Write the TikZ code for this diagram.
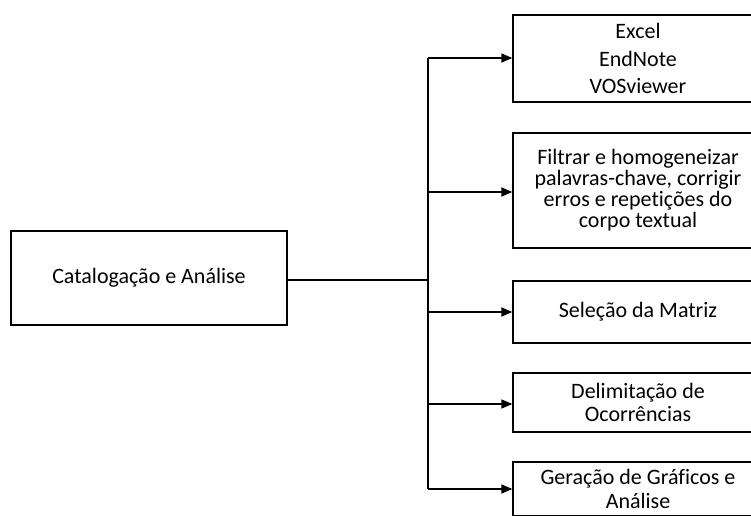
\documentclass[tikz,border=0pt]{standalone}
\usepackage{fontspec}
\setmainfont{Carlito}[Ligatures={NoCommon,NoContextual,NoRare},RawFeature={-liga;-clig;-dlig;-calt}]
\usetikzlibrary{arrows.meta}
\begin{document}
\begin{tikzpicture}[x=1pt,y=-1pt,
  box/.style={draw,line width=1.3pt,align=center,font=\fontsize{22}{23}\selectfont,inner sep=0pt},
  link/.style={line width=1.3pt},
  arr/.style={line width=1.3pt,-{Triangle[length=11pt,width=9pt]}}]
\useasboundingbox (0,0) rectangle (751,515);
\clip (0,0) rectangle (751,515);
% source box
\node[box,minimum width=276pt,minimum height=94pt] (src) at (149,278) {Catalogação e Análise};
% target boxes
\node[box,minimum width=250pt,minimum height=87pt,font=\fontsize{22}{27.5}\selectfont] (t1) at (638,58.5) {Excel\\EndNote\\VOSviewer};
\node[box,minimum width=250pt,minimum height=115pt,font=\fontsize{22}{21}\selectfont] (t2) at (638,190.5) {Filtrar e homogeneizar\\palavras-chave, corrigir\\erros e repetições do\\corpo textual};
\node[box,minimum width=250pt,minimum height=62pt] (t3) at (638,312) {Seleção da Matriz};
\node[box,minimum width=250pt,minimum height=59pt,font=\fontsize{22}{23}\selectfont] (t4) at (638,402.5) {Delimitação de\\Ocorrências};
\node[box,minimum width=250pt,minimum height=54pt,font=\fontsize{22}{24}\selectfont] (t5) at (638,489) {Geração de Gráficos e\\Análise};
% trunk of the tree
\coordinate (j) at (428,280);
\coordinate (top) at (428,58);
\coordinate (bot) at (428,489);
\draw[link] (src.east |- j) -- (j);
\draw[link] (top) -- (bot);
\draw[arr] (top) -- (t1.west |- top);
\draw[arr] (428,192) -- (t2.west |- 0,192);
\draw[arr] (428,312) -- (t3.west);
\draw[arr] (428,404) -- (t4.west |- 0,404);
\draw[arr] (bot) -- (t5.west);
\end{tikzpicture}
\end{document}
